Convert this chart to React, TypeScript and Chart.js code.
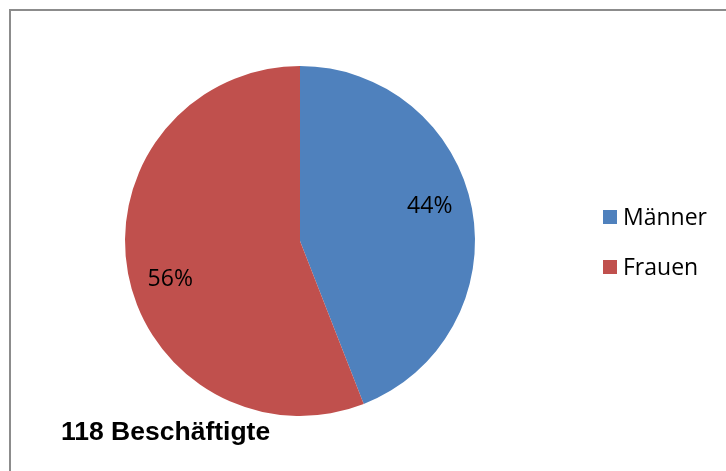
import React, { useEffect, useRef } from "react";
import { Chart, registerables } from "chart.js";

Chart.register(...registerables);

const categories = ["Männer", "Frauen"];
const employees = [52, 66];
const sliceColors = ["#4F81BD", "#C0504D"];
const chartTitle = "118 Beschäftigte";

const overlayPlugin = {
  id: "overlay",
  afterDraw(chart: any) {
    const ctx = chart.ctx;
    const meta = chart.getDatasetMeta(0);
    const data = chart.data.datasets[0].data as number[];
    const total = data.reduce((a, b) => a + b, 0);
    ctx.save();
    // percentage labels
    ctx.fillStyle = "#000";
    ctx.font = "23px 'Open Sans'";
    ctx.textAlign = "center";
    ctx.textBaseline = "middle";
    meta.data.forEach((arc: any, i: number) => {
      const mid = (arc.startAngle + arc.endAngle) / 2 - (5 * Math.PI) / 180;
      const r = arc.outerRadius * 0.77;
      const x = arc.x + Math.cos(mid) * r;
      const y = arc.y + Math.sin(mid) * r;
      ctx.fillText(Math.round((data[i] / total) * 100) + "%", x, y + 2);
    });
    // legend
    ctx.textAlign = "left";
    const labels = chart.data.labels as string[];
    const colors = chart.data.datasets[0].backgroundColor as string[];
    labels.forEach((lab, i) => {
      const cy = 217 + i * 50;
      ctx.fillStyle = colors[i];
      ctx.fillRect(603, cy - 7, 14, 14);
      ctx.fillStyle = "#000";
      ctx.fillText(lab, 623, cy + 1);
    });
    // title
    ctx.font = "bold 26.5px 'Liberation Sans', Arial";
    ctx.textBaseline = "alphabetic";
    ctx.fillText(chartTitle, 61, 440);
    ctx.restore();
  },
};

export default function App() {
  const ref = useRef<HTMLCanvasElement>(null);
  useEffect(() => {
    if (!ref.current) return;
    const chart = new Chart(ref.current, {
      type: "pie",
      data: {
        labels: categories,
        datasets: [
          {
            data: employees,
            backgroundColor: sliceColors,
            borderWidth: 0,
          },
        ],
      },
      options: {
        responsive: false,
        animation: false,
        layout: { padding: { top: 66, bottom: 55, left: 125, right: 251 } },
        plugins: {
          legend: { display: false },
          tooltip: { enabled: false },
          title: { display: false },
        },
      },
      plugins: [overlayPlugin],
    });
    return () => chart.destroy();
  }, []);
  return (
    <div style={{ position: "absolute", left: 0, top: 0, width: 726, height: 471, background: "#fff" }}>
      <div
        style={{
          position: "absolute",
          left: 9,
          top: 9,
          width: 740,
          height: 480,
          borderLeft: "2px solid #8c8c8c",
          borderTop: "2px solid #8c8c8c",
        }}
      />
      <canvas ref={ref} width={726} height={471} style={{ position: "absolute", left: 0, top: 0 }} />
    </div>
  );
}
